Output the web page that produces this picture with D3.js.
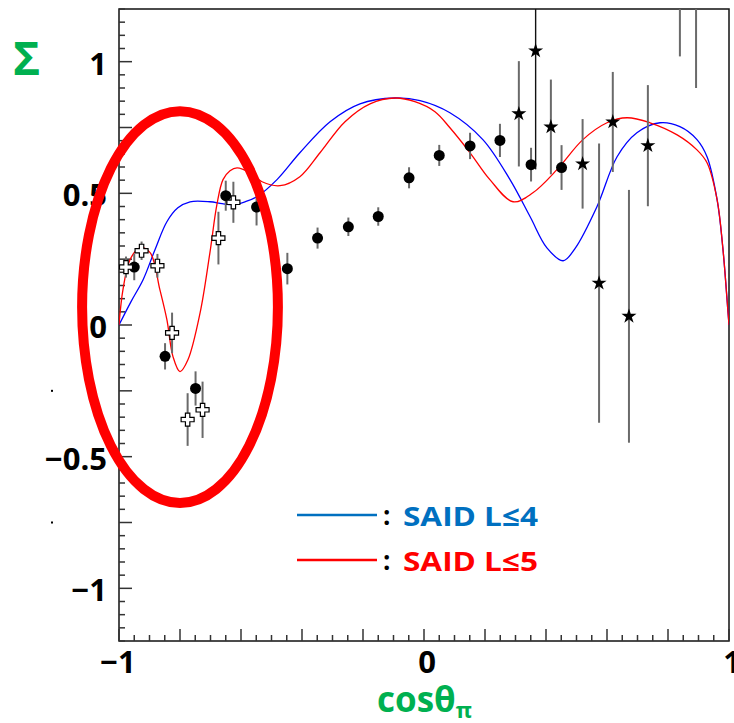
<!DOCTYPE html>
<html>
<head>
<meta charset="utf-8">
<script src="https://cdn.jsdelivr.net/npm/d3@7"></script>
<style>
  html, body { margin: 0; padding: 0; background: #fff; }
  svg { display: block; }
  text { font-family: "Open Sans", "DejaVu Sans", sans-serif; }
</style>
</head>
<body>
<svg id="chart" width="734" height="723"></svg>
<script>
// SAID partial-wave curves: [cosθ, Σ]
const saidL4 = [
  [-1.000, 0.000], [-0.961, 0.088], [-0.921, 0.172], [-0.882, 0.286], [-0.843, 0.392],
  [-0.807, 0.445], [-0.767, 0.468], [-0.702, 0.468], [-0.662, 0.461], [-0.626, 0.457],
  [-0.587, 0.468], [-0.548, 0.487], [-0.482, 0.552], [-0.407, 0.654], [-0.308, 0.772],
  [-0.210, 0.840], [-0.095, 0.862], [-0.013, 0.852], [0.085, 0.806], [0.193, 0.704],
  [0.282, 0.552], [0.348, 0.411], [0.403, 0.293], [0.456, 0.244], [0.495, 0.290],
  [0.567, 0.449], [0.633, 0.639], [0.698, 0.730], [0.774, 0.768], [0.839, 0.753],
  [0.895, 0.704], [0.928, 0.639], [0.961, 0.476], [0.980, 0.290], [0.996, 0.060], [1.000, 0.000]
];
const saidL5 = [
  [-1.000, 0.000], [-0.987, 0.134], [-0.964, 0.248], [-0.931, 0.293], [-0.898, 0.275],
  [-0.866, 0.134], [-0.843, 0.020], [-0.823, -0.120], [-0.800, -0.177], [-0.774, -0.132],
  [-0.734, 0.047], [-0.702, 0.274], [-0.679, 0.457], [-0.659, 0.552], [-0.636, 0.586],
  [-0.613, 0.597], [-0.570, 0.578], [-0.531, 0.544], [-0.472, 0.529], [-0.407, 0.563],
  [-0.341, 0.654], [-0.259, 0.772], [-0.177, 0.840], [-0.095, 0.862], [-0.030, 0.848],
  [0.036, 0.810], [0.085, 0.749], [0.151, 0.654], [0.216, 0.552], [0.292, 0.468],
  [0.357, 0.502], [0.436, 0.590], [0.521, 0.704], [0.600, 0.768], [0.666, 0.787],
  [0.741, 0.768], [0.830, 0.722], [0.895, 0.665], [0.928, 0.616], [0.961, 0.476],
  [0.980, 0.290], [0.996, 0.060], [1.000, 0.000]
];

// Measured beam asymmetry: [cosθ, Σ, error]
const circlePoints = [
  [-0.950, 0.220, 0.050], [-0.849, -0.119, 0.050], [-0.749, -0.241, 0.065],
  [-0.650, 0.491, 0.057], [-0.549, 0.448, 0.070], [-0.448, 0.214, 0.060],
  [-0.349, 0.330, 0.040], [-0.248, 0.373, 0.035], [-0.150, 0.412, 0.035],
  [-0.049, 0.559, 0.040], [0.050, 0.644, 0.040], [0.151, 0.680, 0.050],
  [0.249, 0.701, 0.063], [0.351, 0.609, 0.064], [0.451, 0.598, 0.085]
];
const crossPoints = [
  [-0.977, 0.220, 0.040], [-0.926, 0.282, 0.035], [-0.874, 0.225, 0.045],
  [-0.826, -0.030, 0.077], [-0.775, -0.359, 0.100], [-0.726, -0.322, 0.107],
  [-0.674, 0.330, 0.100], [-0.625, 0.466, 0.078]
];
const starPoints = [
  [0.311, 0.802, 0.200], [0.366, 1.041, 0.450], [0.416, 0.752, 0.180],
  [0.520, 0.612, 0.170], [0.574, 0.159, 0.530], [0.619, 0.771, 0.190],
  [0.672, 0.033, 0.480], [0.734, 0.681, 0.230], [0.839, 1.500, 0.480],
  [0.892, 1.450, 0.550]
];

// Axis labels
const xTickLabels = [-1, 0, 1];
const yTickLabels = [-1, -0.5, 0, 0.5, 1];
const legendItems = [
  { label: "SAID L\u22644", line: "#0070c0", text: "#0070c0" },
  { label: "SAID L\u22645", line: "#ff0000", text: "#ff0000" }
];
// Highlighted region (centre and half-widths in data units)
const highlight = { cx: -0.8, cy: 0.068, rx: 0.321, ry: 0.744 };

const svg = d3.select("#chart");
const x = d3.scaleLinear().domain([-1, 1]).range([119, 729]);
const y = d3.scaleLinear().domain([-1.2, 1.2]).range([641, 9]);
const [x0, x1] = x.range();
const [y0, y1] = y.range();

svg.append("defs").append("clipPath").attr("id", "plotclip")
  .append("rect").attr("x", x0).attr("y", y1).attr("width", x1 - x0).attr("height", y0 - y1);

// Frame
svg.append("rect").attr("x", x0).attr("y", y1).attr("width", x1 - x0).attr("height", y0 - y1)
  .attr("fill", "none").attr("stroke", "#111").attr("stroke-width", 1.5);

// Ticks on the left axis (every 0.05, longer every 0.25)
const tickColor = "#333";
const yMinor = d3.range(-1.2, 1.2001, 0.05).map(v => +v.toFixed(2));
svg.append("g").selectAll("line").data(yMinor).join("line")
  .attr("x1", x0).attr("x2", v => x0 + (Math.abs(Math.round(v * 4) - v * 4) < 1e-6 ? 13 : 6))
  .attr("y1", v => y(v)).attr("y2", v => y(v))
  .attr("stroke", tickColor).attr("stroke-width", 1.5);

// Ticks on the bottom axis (every 0.05, longer every 0.2)
const xMinor = d3.range(-1, 1.0001, 0.05).map(v => +v.toFixed(2));
svg.append("g").selectAll("line").data(xMinor).join("line")
  .attr("x1", v => x(v)).attr("x2", v => x(v))
  .attr("y1", y0).attr("y2", v => y0 - (Math.abs(Math.round(v * 5) - v * 5) < 1e-6 ? 12 : 6))
  .attr("stroke", tickColor).attr("stroke-width", 1.5);

const fmt = v => (v < 0 ? "\u2212" : "") + Math.abs(v);

svg.append("g").selectAll("text").data(yTickLabels).join("text")
  .attr("x", 107).attr("y", v => y(v) + 13)
  .attr("text-anchor", "end").attr("font-size", 31).attr("font-weight", 700).attr("fill", "#000")
  .text(fmt);

svg.append("g").selectAll("text").data(xTickLabels).join("text")
  .attr("x", v => x(v) + (v === -1 ? -1 : 3)).attr("y", 673)
  .attr("text-anchor", "middle").attr("font-size", 31).attr("font-weight", 700).attr("fill", "#000")
  .text(fmt);

// stray decimal points beside the axis
svg.append("g").selectAll("rect").data([-0.25, -0.75]).join("rect")
  .attr("x", 51).attr("y", v => y(v) - 1).attr("width", 2).attr("height", 2).attr("fill", "#000");

// Axis titles
svg.append("text").attr("x", 13).attr("y", 75).attr("font-size", 46).attr("font-weight", 700)
  .attr("fill", "#00b050").attr("font-family", "DejaVu Sans, sans-serif").text("\u03a3");

const xt = svg.append("text").attr("x", 377).attr("y", 712).attr("font-size", 35)
  .attr("font-weight", 700).attr("fill", "#00b050");
xt.append("tspan").text("cos\u03b8");
xt.append("tspan").attr("font-size", 22).attr("dy", 6).text("\u03c0");

// Curves
const line = d3.line().x(d => x(d[0])).y(d => y(d[1])).curve(d3.curveCatmullRom.alpha(0.5));
const plot = svg.append("g").attr("clip-path", "url(#plotclip)");
plot.append("path").datum(saidL4).attr("d", line)
  .attr("fill", "none").attr("stroke", "#0000ff").attr("stroke-width", 1.3);
plot.append("path").datum(saidL5).attr("d", line)
  .attr("fill", "none").attr("stroke", "#ff0000").attr("stroke-width", 1.3);

// Error bars
const allPoints = [...circlePoints, ...crossPoints, ...starPoints];
plot.append("g").selectAll("line").data(allPoints).join("line")
  .attr("x1", d => x(d[0])).attr("x2", d => x(d[0]))
  .attr("y1", d => y(d[1] - d[2])).attr("y2", d => y(d[1] + d[2]))
  .attr("stroke", d => d[2] > 0.4 && d[1] > 1 && d[1] < 1.2 ? "#111" : "#6a6a6a")
  .attr("stroke-width", d => d[2] > 0.4 && d[1] > 1 && d[1] < 1.2 ? 1.4 : 2);

// Markers
plot.append("g").selectAll("circle").data(circlePoints).join("circle")
  .attr("cx", d => x(d[0])).attr("cy", d => y(d[1])).attr("r", 5.5).attr("fill", "#000");

const crossPath = "M-2.2,-6.5H2.2V-2.2H6.5V2.2H2.2V6.5H-2.2V2.2H-6.5V-2.2H-2.2Z";
plot.append("g").selectAll("path").data(crossPoints).join("path")
  .attr("d", crossPath)
  .attr("transform", d => `translate(${x(d[0])},${y(d[1])})`)
  .attr("fill", "#fff").attr("stroke", "#000").attr("stroke-width", 1.2);

const star = d3.symbol().type(d3.symbolStar).size(70);
plot.append("g").selectAll("path").data(starPoints).join("path")
  .attr("d", star)
  .attr("transform", d => `translate(${x(d[0])},${y(d[1])})`)
  .attr("fill", "#000");

// Legend
const lg = svg.append("g").selectAll("g").data(legendItems).join("g")
  .attr("transform", (d, i) => `translate(0,${515 + i * 45})`);
lg.append("line").attr("x1", 297).attr("x2", 377).attr("y1", 0).attr("y2", 0)
  .attr("stroke", d => d.line).attr("stroke-width", 2.5);
lg.append("text").attr("x", 383).attr("y", 10).attr("font-size", 26).attr("font-weight", 700)
  .attr("fill", "#000").text(":");
lg.append("text").attr("x", 403).attr("y", 11).attr("font-size", 27).attr("font-weight", 700)
  .attr("fill", d => d.text).attr("textLength", 135).attr("lengthAdjust", "spacingAndGlyphs")
  .text(d => d.label);

// Highlight ring
svg.append("ellipse")
  .attr("cx", x(highlight.cx)).attr("cy", y(highlight.cy))
  .attr("rx", x(highlight.cx + highlight.rx) - x(highlight.cx))
  .attr("ry", y(highlight.cy - highlight.ry) - y(highlight.cy))
  .attr("fill", "none").attr("stroke", "#ff0000").attr("stroke-width", 10);
</script>
</body>
</html>
